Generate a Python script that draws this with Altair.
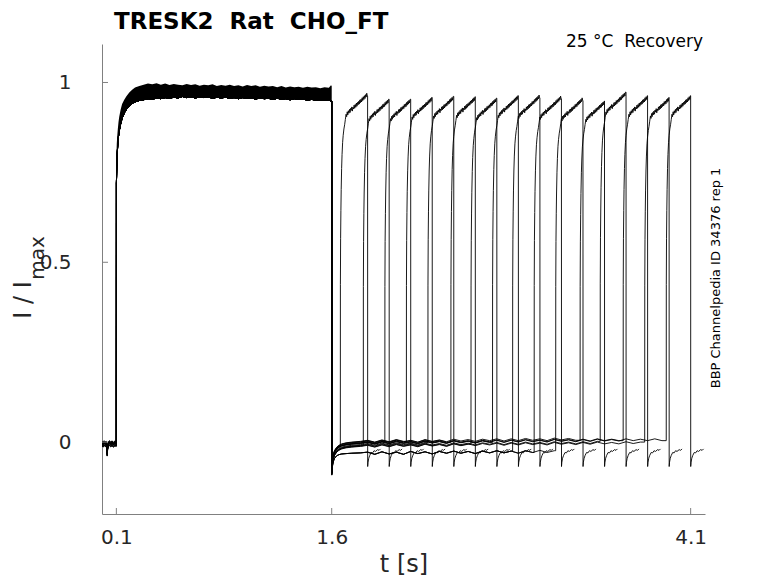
import altair as alt
import pandas as pd

# ---------------- data ----------------
# second pulse onset / offset per sweep [s]
rise2 = [1.66, 1.82, 1.97, 2.12, 2.27, 2.43, 2.57, 2.72, 2.86, 3.01, 3.16, 3.33, 3.47, 3.63, 3.78, 3.93]
fall2 = [1.85, 2.00, 2.15, 2.30, 2.45, 2.60, 2.75, 2.90, 3.05, 3.20, 3.35, 3.50, 3.65, 3.80, 3.95, 4.10]
# second pulse level per sweep
level2 = [0.975, 0.962, 0.962, 0.967, 0.97, 0.972, 0.965, 0.972, 0.97, 0.967, 0.962, 0.96, 0.982, 0.975, 0.97, 0.975]
# baseline offsets per sweep
rec_offset = [0.004, -0.005, 0.002, 0.007, -0.002, 0.005, -0.007, 0.001, 0.0, 0.0, 0.0, 0.006, -0.004, 0.003, -0.006, 0.002]
low_sweeps = [8, 9, 10]

# holding baseline before first pulse
base_t = [0.0, 0.008, 0.015, 0.022, 0.03, 0.034, 0.036, 0.039, 0.045, 0.052, 0.06, 0.07, 0.08, 0.09, 0.1]
base_y = [-0.004, -0.007, -0.003, -0.006, -0.005, -0.012, -0.032, -0.015, -0.006, -0.003, -0.006, -0.004, -0.007, -0.004, -0.005]

# first pulse (0.1 - 1.6 s): envelope of all sweeps
band_t = [0.1005, 0.103, 0.106, 0.11, 0.115, 0.12, 0.13, 0.14, 0.155, 0.17,
          0.19, 0.21, 0.23,
          0.26, 0.29, 0.32, 0.35, 0.38, 0.41, 0.44, 0.47, 0.50, 0.53,
          0.56, 0.59, 0.62, 0.65, 0.68, 0.71, 0.74, 0.77, 0.80, 0.83,
          0.86, 0.89, 0.92, 0.95, 0.98, 1.01, 1.04, 1.07, 1.10, 1.13,
          1.16, 1.19, 1.22, 1.25, 1.28, 1.31, 1.34, 1.37, 1.40, 1.43,
          1.46, 1.49, 1.52, 1.55, 1.58,
          1.595, 1.60]
band_hi = [0.80, 0.83, 0.85, 0.87, 0.89, 0.905, 0.925, 0.94, 0.952, 0.962,
           0.972, 0.980, 0.986,
           0.990, 0.994, 0.997, 0.995, 0.998, 0.994, 0.997, 0.993, 0.996, 0.994,
           0.992, 0.996, 0.993, 0.995, 0.991, 0.994, 0.992, 0.995, 0.990, 0.993,
           0.991, 0.994, 0.990, 0.992, 0.989, 0.993, 0.990, 0.992, 0.988, 0.991,
           0.989, 0.990, 0.987, 0.990, 0.986, 0.989, 0.987, 0.988, 0.985, 0.988,
           0.986, 0.987, 0.984, 0.987, 0.985,
           0.992, 0.990]
band_lo = [0.72, 0.77, 0.80, 0.83, 0.85, 0.865, 0.885, 0.90, 0.915, 0.925,
           0.935, 0.942, 0.946,
           0.950, 0.952, 0.955, 0.953, 0.957, 0.955, 0.958, 0.956, 0.959, 0.957,
           0.961, 0.958, 0.960, 0.957, 0.960, 0.958, 0.960, 0.956, 0.959, 0.957,
           0.959, 0.956, 0.958, 0.955, 0.958, 0.956, 0.957, 0.954, 0.957, 0.955,
           0.956, 0.953, 0.956, 0.954, 0.955, 0.952, 0.955, 0.953, 0.954, 0.951,
           0.953, 0.951, 0.952, 0.950, 0.951,
           0.948, 0.948]

# recovery after 1.6 s (time after 1.6 s)
rec_dt = [0.0005, 0.004, 0.01, 0.02, 0.035, 0.05, 0.07, 0.10, 0.14, 0.20,
          0.25, 0.30, 0.35, 0.40, 0.45, 0.50, 0.55, 0.60, 0.65, 0.70,
          0.75, 0.80, 0.85, 0.90, 0.95, 1.00, 1.05, 1.10, 1.15, 1.20,
          1.25, 1.30, 1.35, 1.40, 1.45, 1.50, 1.55, 1.60, 1.65, 1.70,
          1.75, 1.80, 1.85, 1.90, 1.95, 2.00, 2.05, 2.10, 2.15, 2.20,
          2.25, 2.30, 2.35, 2.40, 2.45]
rec_y = [-0.085, -0.062, -0.042, -0.030, -0.021, -0.016, -0.012, -0.009, -0.007, -0.005,
         -0.002, -0.007, -0.001, -0.006, 0.000, -0.005, -0.001, -0.006, 0.001, -0.004,
         0.000, -0.005, 0.002, -0.003, 0.001, -0.004, 0.002, -0.002, 0.003, -0.003,
         0.003, -0.002, 0.004, -0.001, 0.003, -0.002, 0.005, 0.000, 0.004, -0.001,
         0.005, 0.000, 0.006, 0.001, 0.005, 0.001, 0.007, 0.002, 0.006, 0.002,
         0.007, 0.002, 0.006, 0.003, 0.007]
rec_low_y = [-0.085, -0.070, -0.055, -0.045, -0.038, -0.035, -0.033, -0.032, -0.031, -0.030,
             -0.028, -0.034, -0.027, -0.033, -0.028, -0.034, -0.026, -0.032, -0.027, -0.033,
             -0.026, -0.031, -0.025, -0.031, -0.026, -0.032, -0.025, -0.030, -0.024, -0.030,
             -0.025, -0.031, -0.024, -0.029, -0.023, -0.029, -0.024, -0.030, -0.023, -0.028,
             -0.022, -0.028, -0.023, -0.029, -0.022, -0.027, -0.021, -0.027, -0.022, -0.028,
             -0.021, -0.027, -0.020, -0.026, -0.021]

# second pulse shape (time after onset, fraction of level)
p2_dt = [0.0005, 0.002, 0.004, 0.006, 0.009, 0.012, 0.016, 0.020, 0.025, 0.030, 0.035,
         0.040, 0.044, 0.048, 0.052, 0.056, 0.060, 0.064, 0.068, 0.072, 0.076,
         0.080, 0.084, 0.088, 0.092, 0.096, 0.100, 0.104, 0.108, 0.112, 0.116,
         0.120, 0.124, 0.128, 0.132, 0.136, 0.140, 0.144, 0.148, 0.152, 0.156,
         0.160, 0.164, 0.168, 0.172, 0.176, 0.180, 0.184, 0.188, 0.192, 0.196,
         0.200, 0.204]
p2_rel = [0.45, 0.58, 0.66, 0.72, 0.78, 0.82, 0.855, 0.875, 0.893, 0.905, 0.92,
          0.935, 0.928, 0.942, 0.933, 0.945, 0.938, 0.949, 0.940, 0.952, 0.946,
          0.956, 0.944, 0.955, 0.950, 0.961, 0.952, 0.963, 0.955, 0.967, 0.958,
          0.969, 0.962, 0.972, 0.964, 0.976, 0.968, 0.978, 0.970, 0.982, 0.974,
          0.985, 0.977, 0.988, 0.980, 0.991, 0.984, 0.995, 0.987, 0.998, 0.990,
          1.0, 0.994]

# tail after second pulse (time after offset)
tail_dt = [0.0005, 0.003, 0.008, 0.015, 0.025, 0.035, 0.045, 0.055, 0.07, 0.08, 0.09]
tail_y = [-0.068, -0.056, -0.045, -0.037, -0.029, -0.030, -0.024, -0.026, -0.021, -0.023, -0.019]

x_ticks = [0.1, 1.6, 4.1]
y_ticks = [0, 0.5, 1]

# ---------------- build tables ----------------
rows = []
for k in range(len(rise2)):
    off = 0.0 if k in low_sweeps else rec_offset[k]
    pts = [(t, v + off) for t, v in zip(base_t, base_y)] + list(zip(band_t, band_lo))
    ry = rec_low_y if k in low_sweeps else [v + off for v in rec_y]
    last = ry[0]
    for dt, v in zip(rec_dt, ry):
        if 1.6 + dt < rise2[k]:
            pts.append((1.6 + dt, v))
            last = v
    pts.append((rise2[k], last))
    lastp = last
    for dt, r in zip(p2_dt, p2_rel):
        if rise2[k] + dt < fall2[k]:
            pts.append((rise2[k] + dt, r * level2[k]))
            lastp = r * level2[k]
    pts.append((fall2[k], lastp))
    for dt, v in zip(tail_dt, tail_y):
        pts.append((fall2[k] + dt, v))
    for i, (t, v) in enumerate(pts):
        rows.append({"sweep": k, "i": i, "t": t, "y": v})
traces = pd.DataFrame(rows)
band = pd.DataFrame({"t": band_t, "hi": band_hi, "lo": band_lo})
xt = pd.DataFrame({"t": x_ticks})
yt = pd.DataFrame({"y": y_ticks})

FONT = "DejaVu Sans"
TXT = "#262626"
xs = alt.Scale(domain=[0, 4.2], nice=False, zero=False)
ys = alt.Scale(domain=[-0.2, 1.107], nice=False, zero=False)
xaxis = alt.Axis(values=x_ticks, labelExpr="format(datum.value, '.1f')", ticks=False, grid=False,
                 labelFlush=False, domainColor="#808080", labelFontSize=20, labelPadding=13,
                 labelColor=TXT, labelFont=FONT, titleFont=FONT, titleFontSize=24,
                 titleFontWeight="normal", titleColor=TXT, titlePadding=5)
yaxis = alt.Axis(values=y_ticks, labelExpr="datum.value == 0.5 ? '0.5' : format(datum.value, 'd')",
                 ticks=False, grid=False, domainColor="#808080", labelFontSize=20,
                 labelPadding=31, labelColor=TXT, labelFont=FONT)
X = alt.X("t:Q", scale=xs, axis=xaxis, title="t [s]")
Y = alt.Y("y:Q", scale=ys, axis=yaxis, title="")

band_layer = alt.Chart(band).mark_area(color="black", opacity=1).encode(
    x=X, y=alt.Y("hi:Q", scale=ys, axis=yaxis, title=""), y2="lo:Q")
lines = alt.Chart(traces).mark_line(color="black", strokeWidth=0.9).encode(
    x=X, y=Y, detail="sweep:N", order="i:Q")
xtick = alt.Chart(xt).mark_rule(color="#808080", strokeWidth=1).encode(
    x=X, y=alt.value(470), y2=alt.value(464))
ytick = alt.Chart(yt).mark_rule(color="#808080", strokeWidth=1).encode(
    y=Y, x=alt.value(0), x2=alt.value(6))


def label(text, x, y, size, **kw):
    return alt.Chart(alt.Data(values=[{"k": 1}])).mark_text(
        text=text, font=FONT, fontSize=size, **kw).encode(x=alt.value(x), y=alt.value(y))


title = label("TRESK2\u00a0\u00a0Rat\u00a0\u00a0CHO_FT", 12, -15, 23, fontWeight="bold",
              align="left", baseline="alphabetic", color="black")
sub = label("25 °C\u00a0\u00a0Recovery", 601, 3, 17, align="right", baseline="alphabetic", color="black")
side = label("BBP Channelpedia ID 34376 rep 1", 614, 234, 13, angle=270, align="center",
             baseline="middle", color="black")
ylab1 = label("I / I", -71, 256, 24, angle=270, align="center", baseline="alphabetic", color=TXT)
ylab2 = label("max", -58, 214, 20, angle=270, align="center", baseline="alphabetic", color=TXT)

chart = alt.layer(band_layer, lines, xtick, ytick, title, sub, side, ylab1, ylab2).properties(
    width=603, height=470,
    autosize=alt.AutoSizeParams(type="none"),
    padding={"left": 94, "top": 36, "right": 60, "bottom": 66},
).configure_view(strokeWidth=0)

chart.save("out.html", embed_options={"renderer": "svg", "actions": False})
